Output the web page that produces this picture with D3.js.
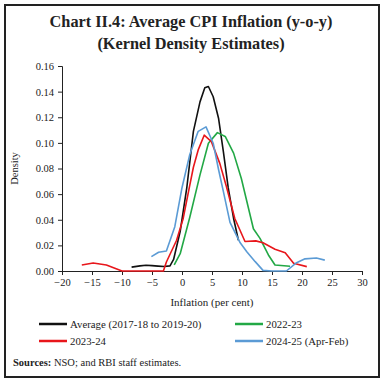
<!DOCTYPE html>
<html>
<head>
<meta charset="utf-8">
<script src="https://cdn.jsdelivr.net/npm/d3@7"></script>
<style>
  body { margin: 0; background: #fff; }
  svg { display: block; font-family: "Liberation Serif", "DejaVu Serif", serif; }
</style>
</head>
<body>
<div id="chart"></div>
<script>
// kernel density estimates
const avgX = [-8.4, -7, -6, -5, -4, -3, -2, -1.4, -0.3, 0.8, 1.9, 3, 3.8, 4.4, 5.2, 6.1, 6.9, 7.7, 8.6, 9.4];
const avgY = [0.003, 0.004, 0.0045, 0.0042, 0.0038, 0.0035, 0.004, 0.009, 0.031, 0.065, 0.109, 0.132, 0.143, 0.144, 0.136, 0.119, 0.093, 0.065, 0.041, 0.024];

const fy23X = [-1.3, -0.3, 1.3, 3, 4.4, 5.9, 7.2, 8.6, 9.9, 11.9, 13, 14.4, 15.5, 18];
const fy23Y = [0.0047, 0.0135, 0.042, 0.075, 0.0997, 0.108, 0.105, 0.092, 0.072, 0.033, 0.0255, 0.0125, 0.0047, 0.0037];

const fy24X = [-16.7, -14.8, -12.6, -10, -8, -6, -4, -3.1, -2.6, -0.9, 0.2, 1.3, 1.9, 2.7, 3.7, 4.9, 6.3, 7.4, 8.8, 10.5, 12.3, 13.5, 15.5, 17.2, 18.6, 20.8];
const fy24Y = [0.0047, 0.0062, 0.0047, 0, 0, 0, 0, 0, 0.007, 0.024, 0.041, 0.067, 0.081, 0.0945, 0.106, 0.101, 0.084, 0.066, 0.041, 0.023, 0.0235, 0.022, 0.017, 0.0143, 0.006, 0.0034];

const fy25X = [-5.1, -3.9, -2.6, -1.2, 0, 1.3, 2.7, 4, 5.2, 6.1, 6.9, 8, 9.7, 10.8, 12.2, 13.5, 15, 17.4, 19.1, 20.5, 22.4, 23.8];
const fy25Y = [0.0112, 0.0146, 0.0156, 0.0346, 0.065, 0.091, 0.109, 0.1125, 0.0997, 0.079, 0.062, 0.038, 0.022, 0.015, 0.0073, 0.0005, 0, 0, 0.0065, 0.0095, 0.0102, 0.0085];

const xTicks = [-20, -15, -10, -5, 0, 5, 10, 15, 20, 25, 30];
const yTicks = [0, 0.02, 0.04, 0.06, 0.08, 0.1, 0.12, 0.14, 0.16];

const seriesNames = ["Average (2017-18 to 2019-20)", "2022-23", "2023-24", "2024-25 (Apr-Feb)"];

const series = [
  { name: seriesNames[0], xs: avgX, ys: avgY, color: "#111111" },
  { name: seriesNames[1], xs: fy23X, ys: fy23Y, color: "#22a845" },
  { name: seriesNames[2], xs: fy24X, ys: fy24Y, color: "#e8161b" },
  { name: seriesNames[3], xs: fy25X, ys: fy25Y, color: "#5b9bd5" }
];

const W = 384, H = 384;
const margin = { top: 66, right: 22, bottom: 113, left: 62 },
      width = W - margin.left - margin.right,
      height = H - margin.top - margin.bottom;

const svg = d3.select("#chart")
  .append("svg")
  .attr("width", W)
  .attr("height", H);

// frame
svg.append("rect")
  .attr("x", 5).attr("y", 5)
  .attr("width", 374).attr("height", 372)
  .attr("fill", "none")
  .attr("stroke", "#222")
  .attr("stroke-width", 2);

// title
svg.append("text")
  .attr("x", 191).attr("y", 27)
  .attr("text-anchor", "middle")
  .attr("font-size", 16.3).attr("font-weight", "bold")
  .attr("fill", "#222")
  .text("Chart II.4: Average CPI Inflation (y-o-y)");
svg.append("text")
  .attr("x", 191).attr("y", 49)
  .attr("text-anchor", "middle")
  .attr("font-size", 16.3).attr("font-weight", "bold")
  .attr("fill", "#222")
  .text("(Kernel Density Estimates)");

const g = svg.append("g")
  .attr("transform", `translate(${margin.left},${margin.top})`);

const x = d3.scaleLinear().domain([-20, 30]).range([0, width]);
const y = d3.scaleLinear().domain([0, 0.16]).range([height, 0]);

const xAxis = g.append("g")
  .attr("transform", `translate(0,${height})`)
  .call(d3.axisBottom(x).tickValues(xTicks).tickSize(4).tickPadding(4).tickFormat(d3.format("d")));

const yAxis = g.append("g")
  .call(d3.axisLeft(y).tickValues(yTicks).tickSize(4).tickPadding(4).tickFormat(d3.format(".2f")));

[xAxis, yAxis].forEach(a => {
  a.selectAll("path, line").attr("stroke", "#222");
  a.selectAll("text").attr("font-size", 10.5).attr("fill", "#222")
    .attr("font-family", "Liberation Serif, serif");
});

// axis titles
g.append("text")
  .attr("transform", `translate(${-44},${height / 2}) rotate(-90)`)
  .attr("text-anchor", "middle")
  .attr("font-size", 10.5).attr("fill", "#222")
  .text("Density");

g.append("text")
  .attr("x", width / 2).attr("y", height + 35)
  .attr("text-anchor", "middle")
  .attr("font-size", 11).attr("fill", "#222")
  .text("Inflation (per cent)");

const line = d3.line()
  .x(d => x(d[0]))
  .y(d => y(d[1]));

g.selectAll(".series")
  .data(series)
  .enter()
  .append("path")
  .attr("class", "series")
  .attr("fill", "none")
  .attr("stroke", d => d.color)
  .attr("stroke-width", 1.6)
  .attr("stroke-linejoin", "round")
  .attr("d", d => line(d3.zip(d.xs, d.ys)));

// legend (order as in the reference: black, green / red, blue)
const legendPos = [
  { s: series[0], lx: 39, ly: 324 },
  { s: series[1], lx: 235, ly: 324 },
  { s: series[2], lx: 39, ly: 341 },
  { s: series[3], lx: 235, ly: 341 }
];

const leg = svg.selectAll(".legend")
  .data(legendPos)
  .enter()
  .append("g")
  .attr("class", "legend")
  .attr("transform", d => `translate(${d.lx},${d.ly})`);

leg.append("line")
  .attr("x1", 0).attr("x2", 28)
  .attr("y1", 0).attr("y2", 0)
  .attr("stroke", d => d.s.color)
  .attr("stroke-width", 2.5);

leg.append("text")
  .attr("x", 31).attr("y", 3.8)
  .attr("font-size", 10.8).attr("fill", "#222")
  .text(d => d.s.name);

// source note
const src = svg.append("text")
  .attr("x", 13).attr("y", 366)
  .attr("font-size", 10.5).attr("fill", "#222");
src.append("tspan").attr("font-weight", "bold").text("Sources:");
src.append("tspan").text(" NSO; and RBI staff estimates.");
</script>
</body>
</html>
